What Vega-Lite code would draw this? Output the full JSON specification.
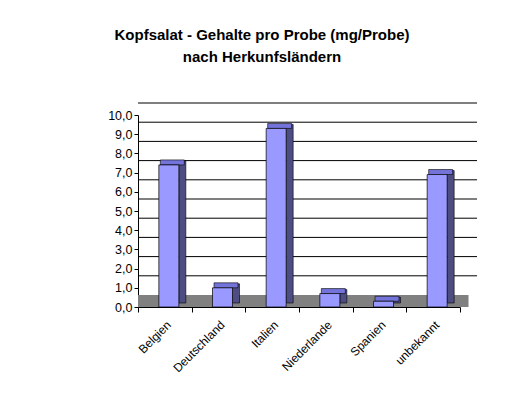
{
  "$schema": "https://vega.github.io/schema/vega-lite/v6.json",
  "width": 322,
  "height": 192,
  "autosize": "none",
  "padding": {"left": 138, "top": 115, "right": 63, "bottom": 94},
  "background": "white",
  "config": {
    "view": {"stroke": null},
    "font": "Liberation Sans",
    "axisY": {
      "labelFontSize": 12.5, "labelColor": "black", "labelOverlap": false,
      "domainColor": "black", "tickColor": "black", "tickSize": 4,
      "labelPadding": 2, "grid": false, "title": null
    },
    "axisX": {
      "labelAngle": -45, "labelFontSize": 12, "labelColor": "black", "labelOverlap": false,
      "domainColor": "black", "tickColor": "black", "tickBand": "extent",
      "tickSize": 5, "labelPadding": 7, "grid": false, "title": null
    }
  },
  "title": {
    "text": ["Kopfsalat - Gehalte pro Probe (mg/Probe)", "nach Herkunfsländern"],
    "fontSize": 15,
    "fontWeight": "bold",
    "color": "black",
    "anchor": "middle",
    "dx": -37,
    "offset": 38,
    "lineHeight": 22
  },
  "datasets": {
    "werte": [
      {"land": "Belgien", "wert": 7.4},
      {"land": "Deutschland", "wert": 1.0},
      {"land": "Italien", "wert": 9.3},
      {"land": "Niederlande", "wert": 0.7},
      {"land": "Spanien", "wert": 0.3},
      {"land": "unbekannt", "wert": 6.9}
    ],
    "gitter": [
      {"wert": 1}, {"wert": 2}, {"wert": 3}, {"wert": 4}, {"wert": 5},
      {"wert": 6}, {"wert": 7}, {"wert": 8}, {"wert": 9}, {"wert": 10}
    ],
    "boden": [{"wert": 0}]
  },
  "encoding": {
    "y": {
      "field": "wert", "type": "quantitative", "title": null,
      "scale": {"domain": [0, 10], "nice": false},
      "axis": {
        "values": [0, 1, 2, 3, 4, 5, 6, 7, 8, 9, 10],
        "labelExpr": "replace(format(datum.value, '.1f'), '.', ',')",
        "labelOverlap": false
      }
    }
  },
  "layer": [
    {
      "data": {"name": "gitter"},
      "mark": {"type": "rule", "color": "black", "strokeWidth": 1, "xOffset": 17, "yOffset": -12}
    },
    {
      "data": {"name": "boden"},
      "mark": {"type": "rule", "color": "#808080", "strokeWidth": 12, "xOffset": 8.5, "yOffset": -6}
    },
    {
      "data": {"name": "werte"},
      "mark": {"type": "bar", "width": 7, "xOffset": 17.5, "yOffset": -4, "color": "#4D4D82", "stroke": "black", "strokeWidth": 0.6},
      "encoding": {
        "x": {"field": "land", "type": "nominal", "sort": null, "title": null, "scale": {"paddingInner": 0, "paddingOuter": 0}}
      }
    },
    {
      "data": {"name": "werte"},
      "mark": {"type": "tick", "orient": "horizontal", "size": 24, "thickness": 5, "xOffset": 7.5, "yOffset": -2.5, "color": "#7373D9", "stroke": "black", "strokeWidth": 0.6, "opacity": 1},
      "encoding": {
        "x": {"field": "land", "type": "nominal", "sort": null, "title": null}
      }
    },
    {
      "data": {"name": "werte"},
      "mark": {"type": "bar", "width": 20, "xOffset": 4, "color": "#9999FF", "stroke": "black", "strokeWidth": 0.7},
      "encoding": {
        "x": {"field": "land", "type": "nominal", "sort": null, "title": null}
      }
    }
  ]
}
